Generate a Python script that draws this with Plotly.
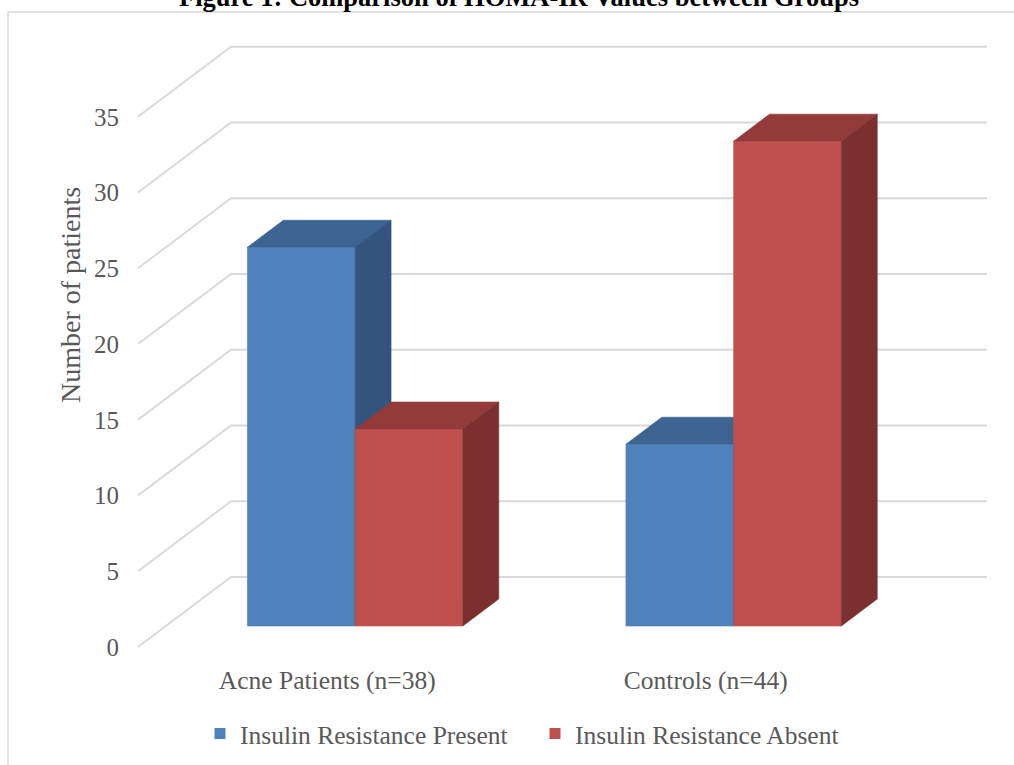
import plotly.graph_objects as go

# ---- data ----
categories = ["Acne Patients (n=38)", "Controls (n=44)"]
series_names = ["Insulin Resistance Present", "Insulin Resistance Absent"]
ir_present = [25, 12]
ir_absent = [13, 32]
y_ticks = [0, 5, 10, 15, 20, 25, 30, 35]

# ---- styling / geometry (pseudo 3-D) ----
FRONT = ["#4F81BD", "#C0504D"]
TOP = ["#3D6391", "#923B3A"]
SIDE = ["#32547F", "#7B302F"]
GRID = "#D9D9D9"
TXT = "#595959"
FONT = "Liberation Serif"

W, H = 1014, 765
ML, MR, MT, MB = 138, 27, 34, 103
px_per_cat = 378.5
px_per_val = 15.15
wall_dx = 93 / px_per_cat       # depth shift in x units
wall_dy = 70 / px_per_val       # depth shift in value units
bar_w = 107.7 / px_per_cat
d0, d1 = 0.30, 0.686            # bar depth fraction (front, back)

x_lo = -0.5
x_hi = x_lo + (W - ML - MR) / px_per_cat
y_lo = -(H - MB - 647) / px_per_val
y_hi = (647 - MT) / px_per_val

fig = go.Figure()

# gridlines: front diagonal + back wall horizontal
for v in y_ticks:
    fig.add_trace(go.Scatter(
        x=[x_lo, x_lo + wall_dx, 1.5 + wall_dx],
        y=[v, v + wall_dy, v + wall_dy],
        mode="lines", line=dict(color=GRID, width=1.8),
        showlegend=False, hoverinfo="skip"))


def poly(xs, ys, color, name=None):
    fig.add_trace(go.Scatter(
        x=xs + [xs[0]], y=ys + [ys[0]], mode="lines", fill="toself",
        fillcolor=color, line=dict(color=color, width=0.6),
        showlegend=False, hoverinfo="skip" if name is None else "text",
        text=name))


all_series = [ir_present, ir_absent]
ox0, oy0 = d0 * wall_dx, d0 * wall_dy
ox1, oy1 = d1 * wall_dx, d1 * wall_dy
for c, cat in enumerate(categories):
    for s, vals in enumerate(all_series):
        v = vals[c]
        xl = c - bar_w + s * bar_w
        xr = xl + bar_w
        # front face
        poly([xl + ox0, xr + ox0, xr + ox0, xl + ox0],
             [oy0, oy0, v + oy0, v + oy0], FRONT[s], f"{cat}: {v}")
        # top face
        poly([xl + ox0, xr + ox0, xr + ox1, xl + ox1],
             [v + oy0, v + oy0, v + oy1, v + oy1], TOP[s])
        # side face
        poly([xr + ox0, xr + ox1, xr + ox1, xr + ox0],
             [oy0, oy1, v + oy1, v + oy0], SIDE[s])

# legend entries
for s, nm in enumerate(series_names):
    fig.add_trace(go.Scatter(
        x=[None], y=[None], mode="markers", name=nm,
        marker=dict(symbol="square", size=11, color=FRONT[s])))

plot_w = W - ML - MR
plot_h = H - MT - MB


def xp(px):
    return (px - ML) / plot_w


def yp(py):
    return (H - MB - py) / plot_h


fig.update_layout(
    width=W, height=H,
    margin=dict(l=ML, r=MR, t=MT, b=MB, autoexpand=False),
    plot_bgcolor="white", paper_bgcolor="white",
    font=dict(family=FONT, color=TXT, size=25),
    xaxis=dict(range=[x_lo, x_hi], tickvals=[0, 1], ticktext=categories,
               showgrid=False, zeroline=False, showline=False, ticks="",
               tickfont=dict(size=25.5, color=TXT), ticklabelstandoff=0,
               fixedrange=True),
    yaxis=dict(range=[y_lo, y_hi], tickvals=y_ticks,
               showgrid=False, zeroline=False, showline=False, ticks="",
               tickfont=dict(size=25, color=TXT), ticklabelstandoff=18,
               fixedrange=True),
    legend=dict(orientation="h", x=xp(200), xanchor="left",
                y=yp(734), yanchor="middle",
                font=dict(size=25.5, color=TXT),
                entrywidth=290, entrywidthmode="pixels",
                bgcolor="rgba(0,0,0,0)"),
    shapes=[dict(type="rect", xref="paper", yref="paper",
                 x0=xp(8), x1=xp(W + 20), y0=yp(H + 20), y1=yp(12),
                 line=dict(color=GRID, width=1.5), layer="below")],
    annotations=[
        dict(text="<b>Figure 1: Comparison of HOMA-IR Values between Groups</b>",
             xref="paper", yref="paper", x=xp(519), y=yp(-3),
             xanchor="center", yanchor="middle", showarrow=False,
             font=dict(family=FONT, size=26.5, color="#000000")),
        dict(text="Number of patients", xref="paper", yref="paper",
             x=xp(70), y=yp(295), xanchor="center", yanchor="middle",
             textangle=-90, showarrow=False,
             font=dict(family=FONT, size=28, color=TXT)),
    ],
)

fig.write_html("out.html")
